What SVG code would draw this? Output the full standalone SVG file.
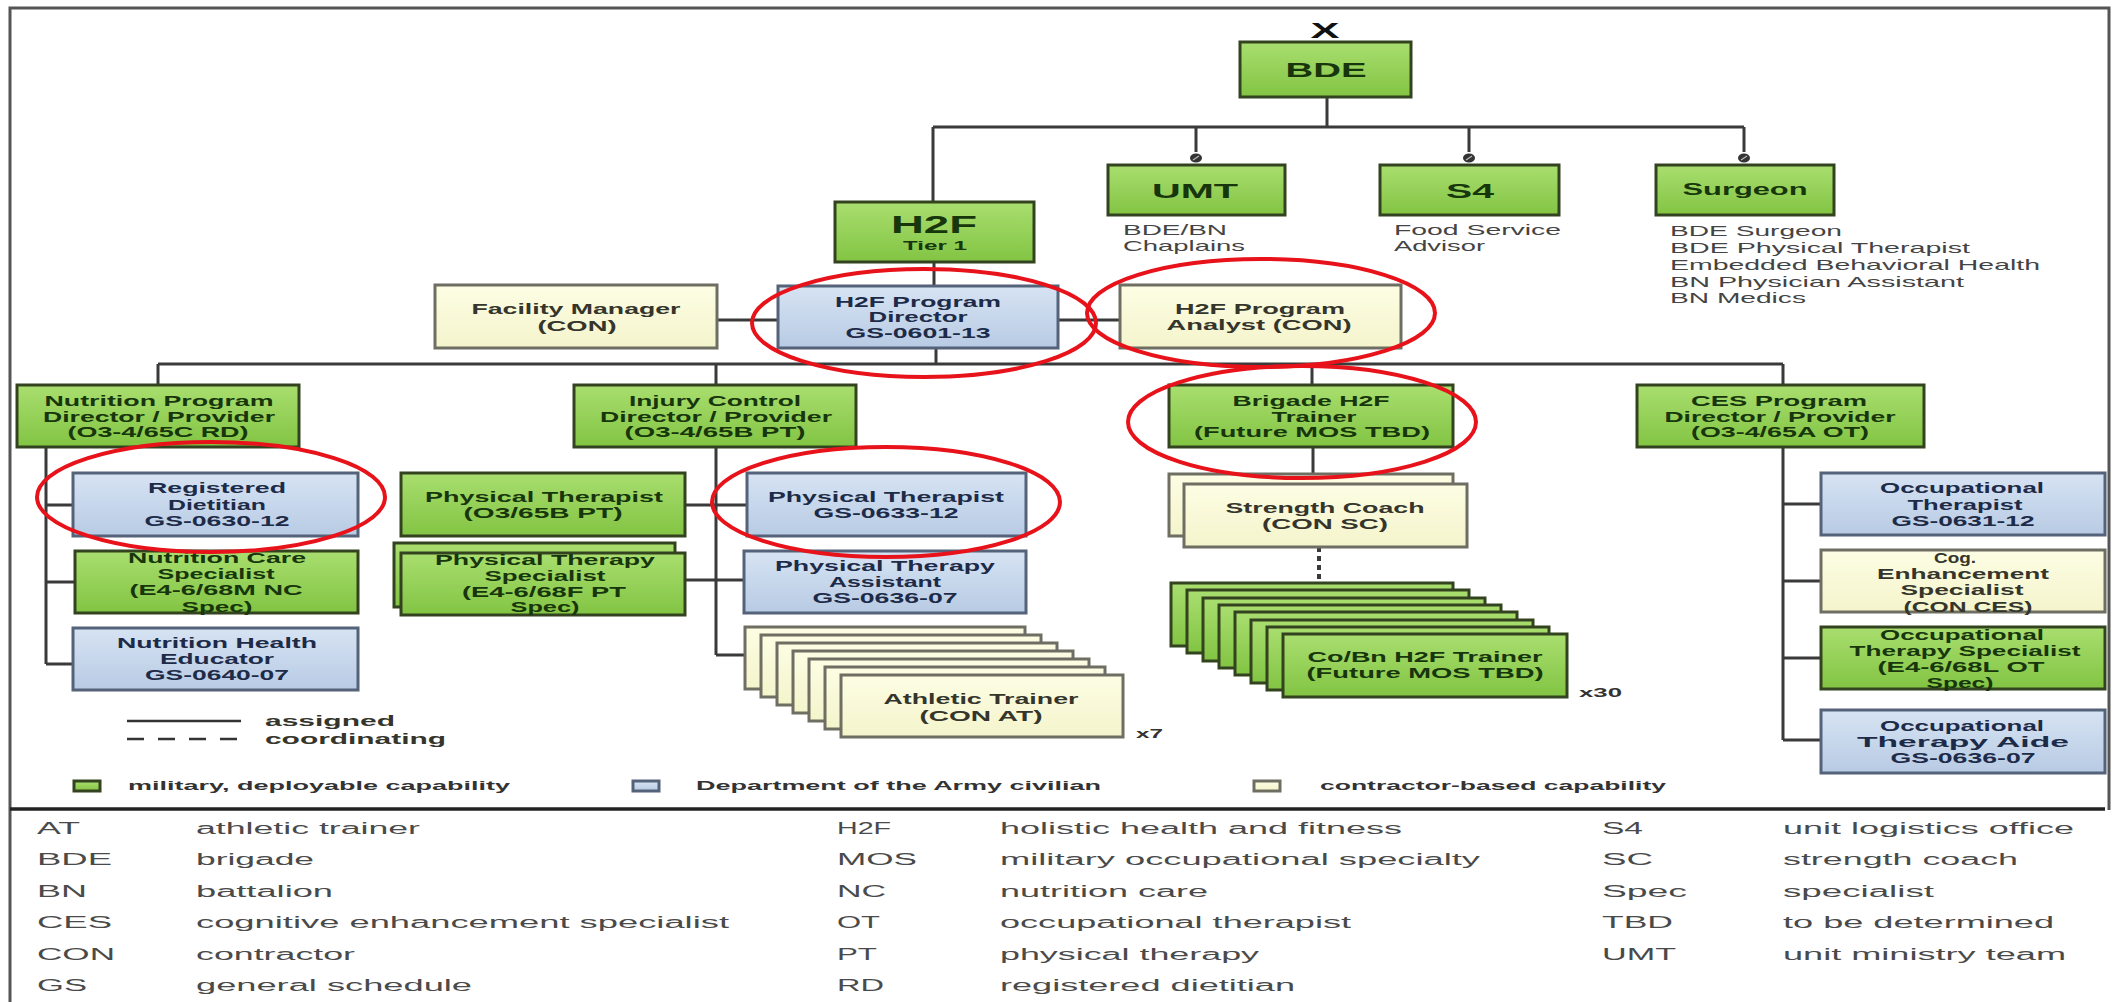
<svg xmlns="http://www.w3.org/2000/svg" width="2112" height="1002" viewBox="0 0 2112 1002">
<defs>
<linearGradient id="gG" x1="0" y1="0" x2="0" y2="1"><stop offset="0" stop-color="#a9de6f"/><stop offset="1" stop-color="#82c443"/></linearGradient>
<linearGradient id="gB" x1="0" y1="0" x2="0" y2="1"><stop offset="0" stop-color="#d6e3f3"/><stop offset="1" stop-color="#b8cbe4"/></linearGradient>
<linearGradient id="gC" x1="0" y1="0" x2="0" y2="1"><stop offset="0" stop-color="#fdfde4"/><stop offset="1" stop-color="#f4f4cc"/></linearGradient>
<style>
.g{fill:url(#gG);stroke:#33431f;stroke-width:3}
.b{fill:url(#gB);stroke:#55637a;stroke-width:3}
.c{fill:url(#gC);stroke:#6e6e62;stroke-width:3}
.t{font-family:"Liberation Sans",Arial,sans-serif;font-weight:bold;font-size:15px;text-anchor:middle}
.tg{fill:#17360c}.tb{fill:#1d2b48}.tc{fill:#35352b}
.s{font-family:"Liberation Sans",Arial,sans-serif;font-size:15px;fill:#444}
.k{font-family:"Liberation Sans",Arial,sans-serif;font-size:16px;fill:#4a4a4a}
.l{font-family:"Liberation Sans",Arial,sans-serif;font-weight:bold;font-size:13px;fill:#333}
.ln{fill:none;stroke:#3a3a3a;stroke-width:3}
.red{fill:none;stroke:#e8121a;stroke-width:4}
</style>
</defs>
<rect width="2112" height="1002" fill="#ffffff"/>
<path d="M10 1002 V8 H2109 V810" fill="none" stroke="#555" stroke-width="3"/>
<path d="M10 809 H2105" stroke="#222" stroke-width="3.5"/>

<g id="connectors" class="ln">
<path d="M1327 97 V127 M933 127 H1744 M933 127 V202 M1196 127 V152 M1469 127 V152 M1744 127 V152"/>
<path d="M934 262 V286 M717 320 H778 M1058 320 H1120 M936 348 V364 M158 364 H1783"/>
<path d="M158 364 V385 M716 364 V385 M1312 364 V385 M1783 364 V385"/>
<path d="M46 447 V664 M46 505 H73 M46 582 H75 M46 664 H73"/>
<path d="M716 447 V655 M685 505 H747 M685 580 H744 M716 655 H744"/>
<path d="M1313 447 V474"/>
<path d="M1319 547 V582" stroke-width="4" stroke-dasharray="5 4"/>
<path d="M1783 447 V740 M1783 504 H1821 M1783 581 H1821 M1783 658 H1821 M1783 740 H1821"/>
<g fill="#333" stroke="none">
<ellipse cx="1196" cy="158" rx="6" ry="4.5"/><ellipse cx="1469" cy="158" rx="6" ry="4.5"/><ellipse cx="1744" cy="158" rx="6" ry="4.5"/>
</g>
<g stroke="#bbb" stroke-width="1.2">
<path d="M1193 160 L1199 156 M1466 160 L1472 156 M1741 160 L1747 156"/>
</g>
</g>

<text x="1325" y="38" font-family="Liberation Sans, Arial, sans-serif" font-weight="bold" font-size="22" text-anchor="middle" textLength="29" lengthAdjust="spacingAndGlyphs" fill="#111">X</text>

<g id="bde"><rect class="g" x="1240" y="42" width="171" height="55"/><text class="t tg" x="1326" y="77" textLength="81" lengthAdjust="spacingAndGlyphs" style="font-size:20px">BDE</text></g>

<g id="umt"><rect class="g" x="1108" y="165" width="177" height="50"/><text class="t tg" x="1195" y="198" style="font-size:21px" textLength="86" lengthAdjust="spacingAndGlyphs">UMT</text>
<text class="s" x="1123" y="235" textLength="104" lengthAdjust="spacingAndGlyphs">BDE/BN</text>
<text class="s" x="1123" y="251" textLength="122" lengthAdjust="spacingAndGlyphs">Chaplains</text></g>

<g id="s4"><rect class="g" x="1380" y="165" width="179" height="50"/><text class="t tg" x="1470" y="198" style="font-size:21px" textLength="48" lengthAdjust="spacingAndGlyphs">S4</text>
<text class="s" x="1394" y="235" textLength="167" lengthAdjust="spacingAndGlyphs">Food Service</text>
<text class="s" x="1394" y="251" textLength="91" lengthAdjust="spacingAndGlyphs">Advisor</text></g>

<g id="surgeon"><rect class="g" x="1656" y="165" width="178" height="50"/><text class="t tg" x="1745" y="195" style="font-size:16px" textLength="125" lengthAdjust="spacingAndGlyphs">Surgeon</text>
<text class="s" x="1670" y="236" textLength="172" lengthAdjust="spacingAndGlyphs">BDE Surgeon</text>
<text class="s" x="1670" y="253" textLength="300" lengthAdjust="spacingAndGlyphs">BDE Physical Therapist</text>
<text class="s" x="1670" y="270" textLength="370" lengthAdjust="spacingAndGlyphs">Embedded Behavioral Health</text>
<text class="s" x="1670" y="287" textLength="294" lengthAdjust="spacingAndGlyphs">BN Physician Assistant</text>
<text class="s" x="1670" y="303" textLength="136" lengthAdjust="spacingAndGlyphs">BN Medics</text></g>

<g id="h2f"><rect class="g" x="835" y="202" width="199" height="60"/>
<text class="t tg" x="934" y="233" style="font-size:24px" textLength="86" lengthAdjust="spacingAndGlyphs">H2F</text>
<text class="t tg" x="935" y="250" style="font-size:13px" textLength="64" lengthAdjust="spacingAndGlyphs">Tier 1</text></g>

<g id="facility"><rect class="c" x="435" y="285" width="282" height="63"/>
<text class="t tc" x="576" y="314" textLength="209" lengthAdjust="spacingAndGlyphs">Facility Manager</text>
<text class="t tc" x="577" y="331" textLength="79" lengthAdjust="spacingAndGlyphs">(CON)</text></g>

<g id="director"><rect class="b" x="778" y="286" width="280" height="62"/>
<text class="t tb" x="918" y="307" textLength="166" lengthAdjust="spacingAndGlyphs">H2F Program</text>
<text class="t tb" x="918" y="322" textLength="99" lengthAdjust="spacingAndGlyphs">Director</text>
<text class="t tb" x="918" y="338" textLength="145" lengthAdjust="spacingAndGlyphs">GS-0601-13</text></g>

<g id="analyst"><rect class="c" x="1120" y="285" width="281" height="63"/>
<text class="t tc" x="1260" y="314" textLength="170" lengthAdjust="spacingAndGlyphs">H2F Program</text>
<text class="t tc" x="1259" y="330" textLength="185" lengthAdjust="spacingAndGlyphs">Analyst (CON)</text></g>

<g id="nutrition"><rect class="g" x="17" y="385" width="282" height="62"/>
<text class="t tg" x="159" y="406" textLength="229" lengthAdjust="spacingAndGlyphs">Nutrition Program</text>
<text class="t tg" x="159" y="422" textLength="232" lengthAdjust="spacingAndGlyphs">Director / Provider</text>
<text class="t tg" x="158" y="437" textLength="181" lengthAdjust="spacingAndGlyphs">(O3-4/65C RD)</text></g>

<g id="injury"><rect class="g" x="574" y="385" width="282" height="62"/>
<text class="t tg" x="715" y="406" textLength="172" lengthAdjust="spacingAndGlyphs">Injury Control</text>
<text class="t tg" x="716" y="422" textLength="232" lengthAdjust="spacingAndGlyphs">Director / Provider</text>
<text class="t tg" x="715" y="437" textLength="181" lengthAdjust="spacingAndGlyphs">(O3-4/65B PT)</text></g>

<g id="brigade"><rect class="g" x="1169" y="385" width="284" height="62"/>
<text class="t tg" x="1311" y="406" textLength="157" lengthAdjust="spacingAndGlyphs">Brigade H2F</text>
<text class="t tg" x="1314" y="422" textLength="85" lengthAdjust="spacingAndGlyphs">Trainer</text>
<text class="t tg" x="1312" y="437" textLength="236" lengthAdjust="spacingAndGlyphs">(Future MOS TBD)</text></g>

<g id="ces"><rect class="g" x="1637" y="385" width="287" height="62"/>
<text class="t tg" x="1779" y="406" textLength="176" lengthAdjust="spacingAndGlyphs">CES Program</text>
<text class="t tg" x="1780" y="422" textLength="231" lengthAdjust="spacingAndGlyphs">Director / Provider</text>
<text class="t tg" x="1780" y="437" textLength="178" lengthAdjust="spacingAndGlyphs">(O3-4/65A OT)</text></g>

<g id="dietitian"><rect class="b" x="73" y="473" width="285" height="63"/>
<text class="t tb" x="217" y="493" textLength="138" lengthAdjust="spacingAndGlyphs">Registered</text>
<text class="t tb" x="217" y="510" textLength="98" lengthAdjust="spacingAndGlyphs">Dietitian</text>
<text class="t tb" x="217" y="526" textLength="145" lengthAdjust="spacingAndGlyphs">GS-0630-12</text></g>

<g id="nc-spec"><rect class="g" x="75" y="551" width="283" height="62"/>
<text class="t tg" x="217" y="563" textLength="178" lengthAdjust="spacingAndGlyphs">Nutrition Care</text>
<text class="t tg" x="216" y="579" textLength="117" lengthAdjust="spacingAndGlyphs">Specialist</text>
<text class="t tg" x="216" y="595" textLength="173" lengthAdjust="spacingAndGlyphs">(E4-6/68M NC</text>
<text class="t tg" x="217" y="612" textLength="71" lengthAdjust="spacingAndGlyphs">Spec)</text></g>

<g id="nh-educator"><rect class="b" x="73" y="628" width="285" height="62"/>
<text class="t tb" x="217" y="648" textLength="200" lengthAdjust="spacingAndGlyphs">Nutrition Health</text>
<text class="t tb" x="217" y="664" textLength="114" lengthAdjust="spacingAndGlyphs">Educator</text>
<text class="t tb" x="217" y="680" textLength="144" lengthAdjust="spacingAndGlyphs">GS-0640-07</text></g>

<g id="pt-mil"><rect class="g" x="401" y="473" width="284" height="63"/>
<text class="t tg" x="544" y="502" textLength="238" lengthAdjust="spacingAndGlyphs">Physical Therapist</text>
<text class="t tg" x="543" y="518" textLength="159" lengthAdjust="spacingAndGlyphs">(O3/65B PT)</text></g>

<g id="pt-spec"><rect class="g" x="394" y="543" width="281" height="64"/><rect class="g" x="401" y="553" width="284" height="62"/>
<text class="t tg" x="545" y="565" textLength="220" lengthAdjust="spacingAndGlyphs">Physical Therapy</text>
<text class="t tg" x="545" y="581" textLength="121" lengthAdjust="spacingAndGlyphs">Specialist</text>
<text class="t tg" x="544" y="597" textLength="164" lengthAdjust="spacingAndGlyphs">(E4-6/68F PT</text>
<text class="t tg" x="545" y="612" textLength="69" lengthAdjust="spacingAndGlyphs">Spec)</text></g>

<g id="pt-civ"><rect class="b" x="747" y="473" width="279" height="63"/>
<text class="t tb" x="886" y="502" textLength="236" lengthAdjust="spacingAndGlyphs">Physical Therapist</text>
<text class="t tb" x="886" y="518" textLength="145" lengthAdjust="spacingAndGlyphs">GS-0633-12</text></g>

<g id="pt-assistant"><rect class="b" x="744" y="551" width="282" height="62"/>
<text class="t tb" x="885" y="571" textLength="220" lengthAdjust="spacingAndGlyphs">Physical Therapy</text>
<text class="t tb" x="885" y="587" textLength="112" lengthAdjust="spacingAndGlyphs">Assistant</text>
<text class="t tb" x="885" y="603" textLength="145" lengthAdjust="spacingAndGlyphs">GS-0636-07</text></g>

<g id="athletic-trainer">
<rect class="c" x="745" y="627" width="280" height="62"/>
<rect class="c" x="761" y="635" width="280" height="62"/>
<rect class="c" x="777" y="643" width="280" height="62"/>
<rect class="c" x="793" y="651" width="280" height="62"/>
<rect class="c" x="809" y="659" width="280" height="62"/>
<rect class="c" x="825" y="667" width="280" height="62"/>
<rect class="c" x="841" y="675" width="282" height="62"/>
<text class="t tc" x="981" y="704" textLength="195" lengthAdjust="spacingAndGlyphs">Athletic Trainer</text>
<text class="t tc" x="981" y="721" textLength="123" lengthAdjust="spacingAndGlyphs">(CON AT)</text>
<text class="l" x="1136" y="738" textLength="27" lengthAdjust="spacingAndGlyphs">x7</text></g>

<g id="strength-coach"><rect class="c" x="1169" y="474" width="284" height="62"/><rect class="c" x="1184" y="484" width="283" height="63"/>
<text class="t tc" x="1325" y="513" textLength="199" lengthAdjust="spacingAndGlyphs">Strength Coach</text>
<text class="t tc" x="1325" y="529" textLength="126" lengthAdjust="spacingAndGlyphs">(CON SC)</text></g>

<g id="cobn-trainer">
<rect class="g" x="1171" y="583" width="282" height="63"/>
<rect class="g" x="1187" y="590" width="282" height="63"/>
<rect class="g" x="1203" y="598" width="282" height="63"/>
<rect class="g" x="1219" y="605" width="282" height="63"/>
<rect class="g" x="1235" y="612" width="282" height="63"/>
<rect class="g" x="1251" y="620" width="282" height="63"/>
<rect class="g" x="1267" y="627" width="282" height="63"/>
<rect class="g" x="1283" y="634" width="284" height="63"/>
<text class="t tg" x="1425" y="662" textLength="235" lengthAdjust="spacingAndGlyphs">Co/Bn H2F Trainer</text>
<text class="t tg" x="1425" y="678" textLength="237" lengthAdjust="spacingAndGlyphs">(Future MOS TBD)</text>
<text class="l" x="1579" y="697" textLength="43" lengthAdjust="spacingAndGlyphs">x30</text></g>

<g id="ot"><rect class="b" x="1821" y="473" width="284" height="62"/>
<text class="t tb" x="1962" y="493" textLength="164" lengthAdjust="spacingAndGlyphs">Occupational</text>
<text class="t tb" x="1965" y="510" textLength="115" lengthAdjust="spacingAndGlyphs">Therapist</text>
<text class="t tb" x="1963" y="526" textLength="143" lengthAdjust="spacingAndGlyphs">GS-0631-12</text></g>

<g id="cog"><rect class="c" x="1821" y="550" width="284" height="62"/>
<text class="t tc" x="1955" y="563" textLength="42" lengthAdjust="spacingAndGlyphs">Cog.</text>
<text class="t tc" x="1963" y="579" textLength="172" lengthAdjust="spacingAndGlyphs">Enhancement</text>
<text class="t tc" x="1962" y="595" textLength="123" lengthAdjust="spacingAndGlyphs">Specialist</text>
<text class="t tc" x="1968" y="612" textLength="129" lengthAdjust="spacingAndGlyphs">(CON CES)</text></g>

<g id="ot-spec"><rect class="g" x="1821" y="627" width="284" height="62"/>
<text class="t tg" x="1962" y="640" textLength="164" lengthAdjust="spacingAndGlyphs">Occupational</text>
<text class="t tg" x="1965" y="656" textLength="231" lengthAdjust="spacingAndGlyphs">Therapy Specialist</text>
<text class="t tg" x="1961" y="672" textLength="167" lengthAdjust="spacingAndGlyphs">(E4-6/68L OT</text>
<text class="t tg" x="1960" y="688" textLength="67" lengthAdjust="spacingAndGlyphs">Spec)</text></g>

<g id="ot-aide"><rect class="b" x="1821" y="710" width="284" height="63"/>
<text class="t tb" x="1962" y="731" textLength="164" lengthAdjust="spacingAndGlyphs">Occupational</text>
<text class="t tb" x="1963" y="747" textLength="212" lengthAdjust="spacingAndGlyphs">Therapy Aide</text>
<text class="t tb" x="1963" y="763" textLength="145" lengthAdjust="spacingAndGlyphs">GS-0636-07</text></g>

<g id="highlights">
<ellipse class="red" cx="924" cy="323" rx="172" ry="54"/>
<ellipse class="red" cx="1261" cy="313" rx="174" ry="54"/>
<ellipse class="red" cx="211" cy="497" rx="174" ry="55"/>
<ellipse class="red" cx="886" cy="502" rx="174" ry="55"/>
<ellipse class="red" cx="1302" cy="422" rx="174" ry="56"/>
</g>

<g id="line-legend">
<path d="M127 721 H241" stroke="#333" stroke-width="2.5"/>
<path d="M127 739 H241" stroke="#333" stroke-width="2.5" stroke-dasharray="17 14"/>
<text class="t tc" x="265" y="726" style="text-anchor:start" textLength="130" lengthAdjust="spacingAndGlyphs">assigned</text>
<text class="t tc" x="265" y="744" style="text-anchor:start" textLength="181" lengthAdjust="spacingAndGlyphs">coordinating</text>
</g>

<g id="color-legend">
<rect class="g" x="74" y="781" width="26" height="10" stroke-width="2"/>
<text class="l" x="128" y="790" textLength="382" lengthAdjust="spacingAndGlyphs">military, deployable capability</text>
<rect class="b" x="633" y="781" width="26" height="10" stroke-width="2"/>
<text class="l" x="696" y="790" textLength="405" lengthAdjust="spacingAndGlyphs">Department of the Army civilian</text>
<rect class="c" x="1254" y="781" width="26" height="10" stroke-width="2"/>
<text class="l" x="1320" y="790" textLength="346" lengthAdjust="spacingAndGlyphs">contractor-based capability</text>
</g>

<g id="glossary">
<text class="k" x="37" y="834" textLength="43" lengthAdjust="spacingAndGlyphs">AT</text>
<text class="k" x="196" y="834" textLength="224" lengthAdjust="spacingAndGlyphs">athletic trainer</text>
<text class="k" x="37" y="865" textLength="75" lengthAdjust="spacingAndGlyphs">BDE</text>
<text class="k" x="196" y="865" textLength="118" lengthAdjust="spacingAndGlyphs">brigade</text>
<text class="k" x="37" y="897" textLength="50" lengthAdjust="spacingAndGlyphs">BN</text>
<text class="k" x="196" y="897" textLength="137" lengthAdjust="spacingAndGlyphs">battalion</text>
<text class="k" x="37" y="928" textLength="75" lengthAdjust="spacingAndGlyphs">CES</text>
<text class="k" x="196" y="928" textLength="533" lengthAdjust="spacingAndGlyphs">cognitive enhancement specialist</text>
<text class="k" x="37" y="960" textLength="78" lengthAdjust="spacingAndGlyphs">CON</text>
<text class="k" x="196" y="960" textLength="159" lengthAdjust="spacingAndGlyphs">contractor</text>
<text class="k" x="37" y="991" textLength="50" lengthAdjust="spacingAndGlyphs">GS</text>
<text class="k" x="196" y="991" textLength="276" lengthAdjust="spacingAndGlyphs">general schedule</text>

<text class="k" x="837" y="834" textLength="54" lengthAdjust="spacingAndGlyphs">H2F</text>
<text class="k" x="1000" y="834" textLength="402" lengthAdjust="spacingAndGlyphs">holistic health and fitness</text>
<text class="k" x="837" y="865" textLength="80" lengthAdjust="spacingAndGlyphs">MOS</text>
<text class="k" x="1000" y="865" textLength="480" lengthAdjust="spacingAndGlyphs">military occupational specialty</text>
<text class="k" x="837" y="897" textLength="49" lengthAdjust="spacingAndGlyphs">NC</text>
<text class="k" x="1000" y="897" textLength="208" lengthAdjust="spacingAndGlyphs">nutrition care</text>
<text class="k" x="837" y="928" textLength="43" lengthAdjust="spacingAndGlyphs">OT</text>
<text class="k" x="1000" y="928" textLength="351" lengthAdjust="spacingAndGlyphs">occupational therapist</text>
<text class="k" x="837" y="960" textLength="40" lengthAdjust="spacingAndGlyphs">PT</text>
<text class="k" x="1000" y="960" textLength="259" lengthAdjust="spacingAndGlyphs">physical therapy</text>
<text class="k" x="837" y="991" textLength="47" lengthAdjust="spacingAndGlyphs">RD</text>
<text class="k" x="1000" y="991" textLength="295" lengthAdjust="spacingAndGlyphs">registered dietitian</text>

<text class="k" x="1602" y="834" textLength="41" lengthAdjust="spacingAndGlyphs">S4</text>
<text class="k" x="1783" y="834" textLength="291" lengthAdjust="spacingAndGlyphs">unit logistics office</text>
<text class="k" x="1602" y="865" textLength="51" lengthAdjust="spacingAndGlyphs">SC</text>
<text class="k" x="1783" y="865" textLength="235" lengthAdjust="spacingAndGlyphs">strength coach</text>
<text class="k" x="1602" y="897" textLength="85" lengthAdjust="spacingAndGlyphs">Spec</text>
<text class="k" x="1783" y="897" textLength="151" lengthAdjust="spacingAndGlyphs">specialist</text>
<text class="k" x="1602" y="928" textLength="71" lengthAdjust="spacingAndGlyphs">TBD</text>
<text class="k" x="1783" y="928" textLength="271" lengthAdjust="spacingAndGlyphs">to be determined</text>
<text class="k" x="1602" y="960" textLength="74" lengthAdjust="spacingAndGlyphs">UMT</text>
<text class="k" x="1783" y="960" textLength="283" lengthAdjust="spacingAndGlyphs">unit ministry team</text>
</g>
</svg>
